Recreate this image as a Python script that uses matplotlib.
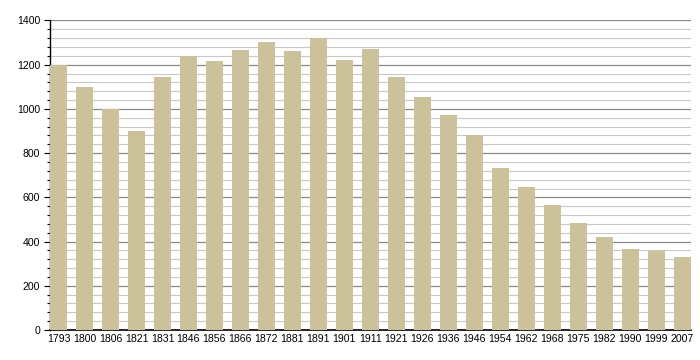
import numpy as np
import matplotlib
matplotlib.use("Agg")
import matplotlib.pyplot as plt
from matplotlib.ticker import MultipleLocator

years = ["1793", "1800", "1806", "1821", "1831", "1846", "1856", "1866", "1872",
         "1881", "1891", "1901", "1911", "1921", "1926", "1936", "1946", "1954",
         "1962", "1968", "1975", "1982", "1990", "1999", "2007"]
population = [1198, 1098, 999, 900, 1144, 1238, 1217, 1266, 1301,
              1262, 1319, 1221, 1269, 1144, 1052, 971, 882, 733,
              647, 565, 484, 421, 366, 357, 330]

plt.rcParams['font.family'] = ['Liberation Sans', 'DejaVu Sans']

fig = plt.figure(figsize=(7, 3.6), dpi=100)
ax = fig.add_axes([50 / 700, 30 / 360, 640.7 / 700, 309.5 / 360])

x = np.arange(len(years))
w = 0.655
ax.bar(x, population, width=w, color="#cbc29c", zorder=3)

ax.set_xlim(-w / 2, len(years) - 1 + w / 2)
ax.set_ylim(0, 1400)
ax.yaxis.set_major_locator(MultipleLocator(200))
ax.yaxis.set_minor_locator(MultipleLocator(40))
ax.grid(axis='y', which='major', color="#8a8a8a", linewidth=0.9, zorder=1)
ax.grid(axis='y', which='minor', color="#c8c8c8", linewidth=0.8, zorder=1)

ax.set_xticks(x)
ax.set_xticklabels(years)
ax.tick_params(axis='x', length=0, pad=3, labelsize=7.6)
ax.tick_params(axis='y', which='major', length=4, width=0.8, pad=3, labelsize=7.6)
ax.tick_params(axis='y', which='minor', length=2.5, width=0.8)

for s in ['top', 'right']:
    ax.spines[s].set_visible(False)
ax.spines['left'].set_linewidth(1.0)
ax.spines['bottom'].set_linewidth(1.2)

fig.savefig("out.png", dpi=100)
